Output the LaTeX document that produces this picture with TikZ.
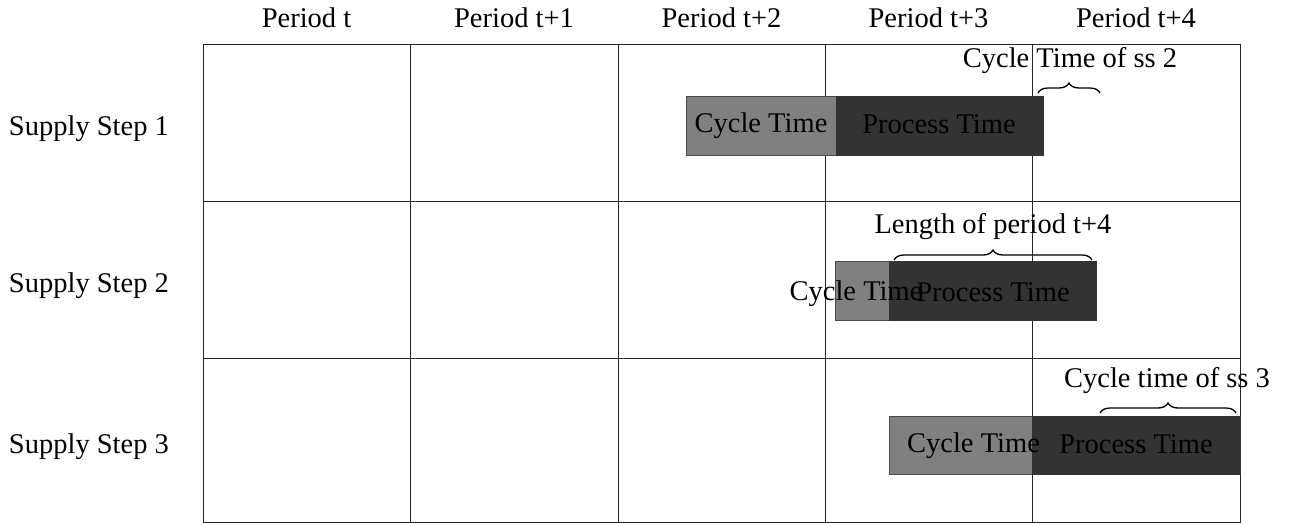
\documentclass[tikz,border=0pt]{standalone}
\usepackage{fontspec}
\setmainfont{Liberation Serif}
\usetikzlibrary{decorations.pathreplacing}
\begin{document}
\begin{tikzpicture}[x=1pt,y=-1pt,
  every node/.style={inner sep=0pt,outer sep=0pt,font=\fontsize{28.5}{33}\selectfont},
  gridline/.style={draw=black!85,line width=0.9pt},
  cyclebox/.style={draw=black!70,fill=black!50,line width=0.8pt,anchor=north west},
  procbox/.style={draw=black!80,fill=black!80,line width=0.8pt,anchor=north west},
  lbl/.style={anchor=base},
  rowlbl/.style={anchor=base west},
  bracedeco/.style={decorate,decoration={brace,amplitude=10pt},line width=1.3pt}]
\useasboundingbox (0,0) rectangle (1291,525);
% grid
\draw[gridline] (203,44) rectangle (1240,522);
\foreach \x in {410,618,825,1032} \draw[gridline] (\x,44) -- (\x,522);
\foreach \y in {201,358} \draw[gridline] (203,\y) -- (1240,\y);
% column headers
\node[lbl] (h0) at (306.5,27) {Period t};
\node[lbl] (h1) at (514,27) {Period t+1};
\node[lbl] (h2) at (721.5,27) {Period t+2};
\node[lbl] (h3) at (928.5,27) {Period t+3};
\node[lbl] (h4) at (1136,27) {Period t+4};
% row headers
\node[rowlbl] (r1) at (9,135) {Supply Step 1};
\node[rowlbl] (r2) at (9,292) {Supply Step 2};
\node[rowlbl] (r3) at (9,453) {Supply Step 3};
% boxes
\node[cyclebox,minimum width=149.3pt,minimum height=58.3pt] (c1) at (686.7,96.7) {};
\node[procbox,minimum width=207pt,minimum height=58.3pt] (p1) at (836,96.7) {};
\node[cyclebox,minimum width=53.6pt,minimum height=58.3pt] (c2) at (835.7,261.7) {};
\node[procbox,minimum width=207.4pt,minimum height=58.3pt] (p2) at (889.3,261.7) {};
\node[cyclebox,minimum width=143.3pt,minimum height=58.3pt] (c3) at (889,416) {};
\node[procbox,minimum width=207.7pt,minimum height=58.3pt] (p3) at (1032.3,416) {};
% box texts
\node[lbl] (ct1) at (761,132) {Cycle Time};
\node[lbl] (pt1) at (939,133) {Process Time};
\node[lbl] (ct2) at (856,300) {Cycle Time};
\node[lbl] (pt2) at (993,301) {Process Time};
\node[lbl] (ct3) at (973.5,452) {Cycle Time};
\node[lbl] (pt3) at (1136,453) {Process Time};
% braces
\coordinate (b1a) at (1038,93);  \coordinate (b1b) at (1100,93);
\coordinate (b2a) at (894,260);  \coordinate (b2b) at (1092,260);
\coordinate (b3a) at (1100,413); \coordinate (b3b) at (1236,413);
\draw[bracedeco] (b1a) -- (b1b);
\draw[bracedeco] (b2a) -- (b2b);
\draw[bracedeco] (b3a) -- (b3b);
\node[lbl] (l1) at (1070,67) {Cycle Time of ss 2};
\node[lbl] (l2) at (993,233) {Length of period t+4};
\node[lbl] (l3) at (1167,387) {Cycle time of ss 3};
\end{tikzpicture}
\end{document}
